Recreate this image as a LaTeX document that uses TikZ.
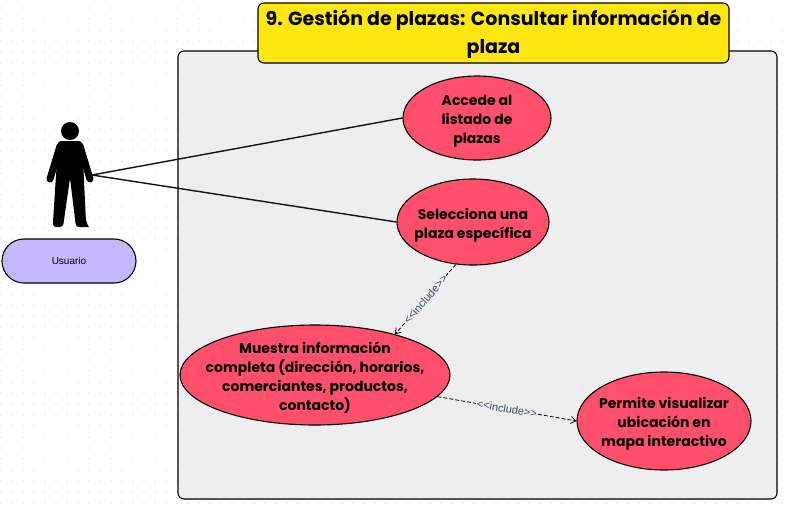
\documentclass[tikz,border=0pt]{standalone}
\usepackage{fontspec}
\setmainfont{Poppins}
\newfontfamily\labelfont{Liberation Sans}
\usetikzlibrary{arrows.meta,shapes.geometric}
\definecolor{titleyellow}{HTML}{FFE80F}
\definecolor{caserose}{HTML}{FF4F6D}
\definecolor{rolepurple}{HTML}{C5B8FF}
\definecolor{panelgrey}{HTML}{EEEEEE}
\definecolor{dotgrey}{HTML}{E9E9E9}
\definecolor{inclabel}{HTML}{3A4A66}
\definecolor{ink}{HTML}{111111}
\tikzset{
  usecase/.style={ellipse,draw=black,line width=1.1pt,fill=caserose,inner sep=0pt},
  casetext/.style={align=center,font=\fontsize{14}{19}\selectfont\bfseries,text=black,yshift=-3pt,inner sep=0pt},
  titletext/.style={align=center,font=\fontsize{19}{28}\selectfont\bfseries,text=black,yshift=-1.5pt,inner sep=0pt},
  assoc/.style={draw=ink,line width=1.4pt},
  incl/.style={draw=black,line width=.8pt,dash pattern=on 4pt off 2pt,-{Straight Barb[length=5pt,width=7pt]}},
  incllabel/.style={font=\labelfont\fontsize{11}{13}\selectfont,text=inclabel,fill=panelgrey,inner sep=1pt,sloped},
  actorlimb/.style={draw=black,line width=7pt,line cap=round}
}
\begin{document}
\begin{tikzpicture}[x=1pt,y=-1pt]
\useasboundingbox (0,0) rectangle (788,504);
\fill[white] (0,0) rectangle (788,504);
\foreach \i in {0,...,71}{\foreach \j in {0,...,45}{
  \fill[dotgrey] ({1+11*\i},{8+11*\j}) circle[radius=.8pt];}}
\node[draw=black,line width=1.1pt,fill=panelgrey,rounded corners=6pt,minimum width=599pt,minimum height=448pt,inner sep=0pt] (panel) at (477.5,275) {};
\node[draw=black,line width=1.1pt,fill=titleyellow,rounded corners=6pt,minimum width=471pt,minimum height=60pt,inner sep=0pt,
  label={[titletext]center:{9. Gestión de plazas: Consultar información de\\plaza}}] (title) at (493.5,33) {};
% actor
\fill[black] (70,131) circle[radius=9];
\draw[actorlimb] (60,146) -- (50,179);
\draw[actorlimb] (80,146) -- (90,179);
\fill[black,rounded corners=3pt] (58,141) -- (82,141) -- (83,160) -- (86,222) to[out=90,in=0] (86,227) -- (76,227) -- (70,178) -- (63,227) -- (53,227) -- (53,222) -- (57,160) -- cycle;
\draw[actorlimb,line width=6pt] (57,224) -- (60,170);
\draw[actorlimb,line width=6pt] (82,224) -- (80,170);
\coordinate (hand) at (92,175);
\node[draw=black,line width=1.1pt,fill=rolepurple,rounded corners=22pt,minimum width=134pt,minimum height=44pt,inner sep=0pt,
  font=\labelfont\fontsize{10}{12}\selectfont] (role) at (69,261) {Usuario};
% use cases
\node[usecase,minimum width=148pt,minimum height=84pt,label={[casetext]center:{Accede al\\listado de\\plazas}}] (e1) at (477,118) {};
\node[usecase,minimum width=152pt,minimum height=86pt,label={[casetext]center:{Selecciona una\\plaza específica}}] (e2) at (473,222) {};
\node[usecase,minimum width=270pt,minimum height=100pt,label={[casetext]center:{Muestra información\\completa (dirección, horarios,\\comerciantes, productos,\\contacto)}}] (e3) at (315,375) {};
\node[usecase,minimum width=174pt,minimum height=98pt,label={[casetext]center:{Permite visualizar\\ubicación en\\mapa interactivo}}] (e4) at (664,421) {};
% connectors
\draw[assoc] (hand) -- (e1.west);
\draw[assoc] (hand) -- (e2.west);
\draw[incl] (e2.248) -- node[incllabel]{<<include>>} (e3.27);
\draw[incl] (e3.-10) -- node[incllabel]{<<include>>} (e4.west);
\end{tikzpicture}
\end{document}
